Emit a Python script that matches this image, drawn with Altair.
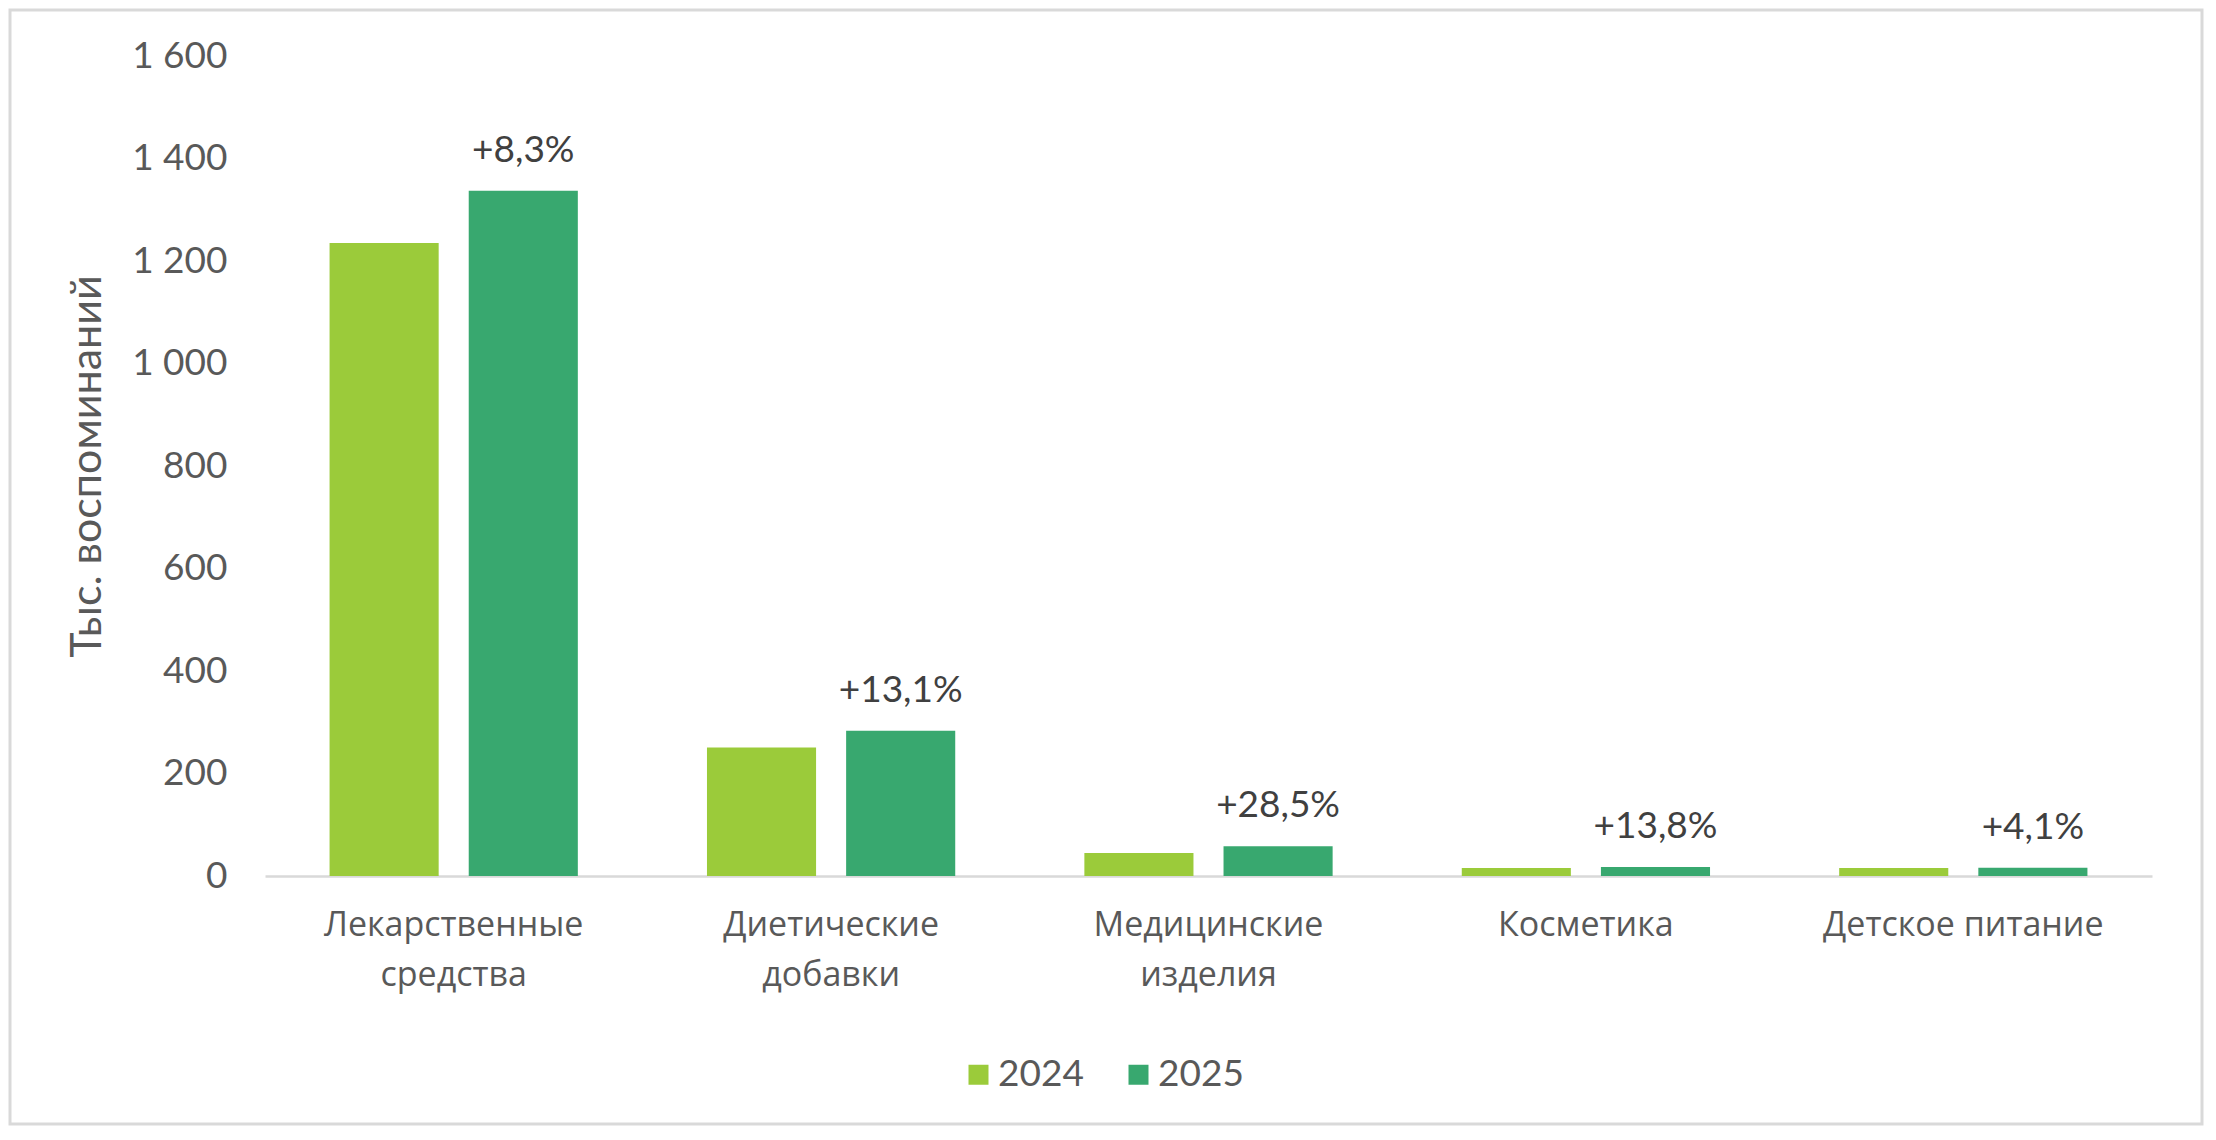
import altair as alt
import pandas as pd

categories = [
    "Лекарственные\nсредства",
    "Диетические\nдобавки",
    "Медицинские\nизделия",
    "Косметика",
    "Детское питание",
]
years = ["2024", "2025"]
values_2024 = [1235, 250.5, 45, 15.5, 15.5]
values_2025 = [1337, 283.5, 58, 17.6, 16.1]
growth_labels = ["+8,3%", "+13,1%", "+28,5%", "+13,8%", "+4,1%"]
y_ticks = [0, 200, 400, 600, 800, 1000, 1200, 1400, 1600]
colors = ["#9BCB3A", "#38A86F"]

rows = []
for c, a, b, g in zip(categories, values_2024, values_2025, growth_labels):
    rows.append({"cat": c, "year": "2024", "value": a, "label": ""})
    rows.append({"cat": c, "year": "2025", "value": b, "label": g})
df = pd.DataFrame(rows)
df25 = df[df["year"] == "2025"]

W, H = 1887, 820

x_enc = alt.X(
    "cat:N",
    sort=categories,
    scale=alt.Scale(paddingInner=0, paddingOuter=0),
    axis=alt.Axis(
        title=None,
        labelAngle=0,
        ticks=False,
        tickSize=0,
        domainColor="#D9D9D9",
        domainWidth=2.5,
        labelFont="Open Sans",
        labelFontSize=34,
        labelColor="#595959",
        labelPadding=59,
        labelBaseline="alphabetic",
        labelLineHeight=50,
        labelLimit=0,
        labelOverlap=False,
        labelExpr="split(datum.label, '\\n')",
    ),
)
xoff_enc = alt.XOffset(
    "year:N", sort=years, scale=alt.Scale(paddingInner=0.216, paddingOuter=0.464)
)
y_enc = alt.Y(
    "value:Q",
    scale=alt.Scale(domain=[0, 1600], nice=False),
    axis=alt.Axis(
        values=y_ticks,
        grid=False,
        domain=False,
        ticks=False,
        tickSize=0,
        labelPadding=38,
        labelExpr="replace(format(datum.value, ','), ',', ' ')",
        labelFont="Lato",
        labelFontSize=37,
        labelColor="#595959",
        title="Тыс. воспоминаний",
        titleFont="Lato",
        titleFontSize=43,
        titleFontWeight="normal",
        titleColor="#595959",
        titleX=-165,
        titleY=410,
        titleAngle=270,
        titleBaseline="alphabetic",
        titleAlign="center",
    ),
)

frame = alt.Chart(pd.DataFrame({"a": [0]})).mark_rect(
    fillOpacity=0, stroke="#D9D9D9", strokeWidth=3
).encode(
    x=alt.value(-255), x2=alt.value(W + 50), y=alt.value(-46), y2=alt.value(H + 248)
)

bars = alt.Chart(df).mark_bar().encode(
    x=x_enc,
    xOffset=xoff_enc,
    y=y_enc,
    color=alt.Color(
        "year:N",
        scale=alt.Scale(domain=years, range=colors),
        legend=alt.Legend(
            title=None,
            orient="none",
            legendX=695,
            legendY=1000,
            direction="horizontal",
            symbolType="square",
            symbolSize=400,
            symbolStrokeWidth=0,
            symbolOpacity=1,
            labelFont="Lato",
            labelFontSize=37,
            labelColor="#595959",
            labelOffset=1,
            columnPadding=36,
            padding=0,
        ),
    ),
)

labels = alt.Chart(df25).mark_text(
    font="Lato", fontSize=37, color="#404040", baseline="alphabetic", dy=-29
).encode(
    x=alt.X("cat:N", sort=categories),
    xOffset=alt.XOffset("year:N", sort=years),
    y=alt.Y("value:Q"),
    text="label:N",
)

chart = (
    alt.layer(frame, bars, labels)
    .properties(
        width=W,
        height=H,
        autosize=alt.AutoSizeParams(type="none"),
        padding={"left": 257, "top": 48, "right": 52, "bottom": 250},
        background="white",
    )
    .configure_view(stroke="transparent", strokeWidth=0)
)

chart.save("out.html", embed_options={"renderer": "svg", "actions": False})
